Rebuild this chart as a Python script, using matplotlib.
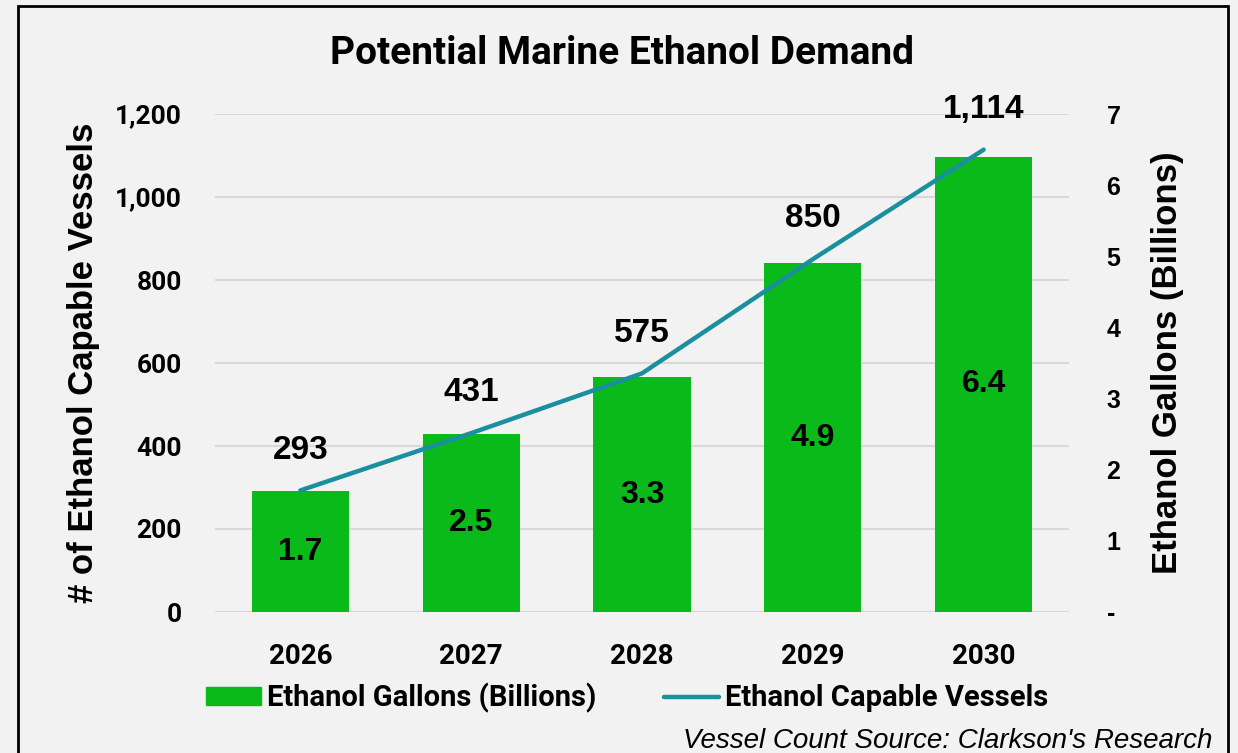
import matplotlib.pyplot as plt
from matplotlib.patches import Rectangle
from matplotlib.lines import Line2D

YEARS = ['2026', '2027', '2028', '2029', '2030']
GALLONS = [1.7, 2.5, 3.3, 4.9, 6.4]
VESSELS = [293, 431, 575, 850, 1114]
LEFT_TICKS = [0, 200, 400, 600, 800, 1000, 1200]
RIGHT_TICKS = [0, 1, 2, 3, 4, 5, 6, 7]

BG = '#F2F2F2'
GREEN = '#0ABA1A'
TEAL = '#1A8F9E'
NARROW = ['Roboto', 'DejaVu Sans']
ARIAL = ['Liberation Sans', 'DejaVu Sans']

fig = plt.figure(figsize=(12.38, 7.53), dpi=100, facecolor=BG)
ax = fig.add_axes([215 / 1238, 1 - 612 / 753, 854 / 1238, 498 / 753])
ax2 = ax.twinx()

x = list(range(len(YEARS)))

# bars go on the right axis (0-7), the line and the grid on the left one (0-1200)
for t in LEFT_TICKS:
    ax2.axhline(t * 7 / 1200, color='#D9D9D9', lw=1.5, zorder=0)
ax2.bar(x, GALLONS, width=0.57, color=GREEN, zorder=2)
for xi, g in zip(x, GALLONS):
    ax2.text(xi, g / 2, f'{g:.1f}', ha='center', va='center', fontsize=23,
             fontweight='bold', family=ARIAL, zorder=3)

ax2.set_zorder(0)
ax.set_zorder(1)
ax.patch.set_visible(False)
ax2.patch.set_facecolor(BG)
ax.plot(x, VESSELS, color=TEAL, lw=3.2, solid_capstyle='round', zorder=3)
for xi, v in zip(x, VESSELS):
    ax.annotate(f'{v:,}', (xi, v), xytext=(0, 29), textcoords='offset points',
                ha='center', va='center', fontsize=24, fontweight='bold', family=ARIAL)

ax.set_xlim(-0.5, 4.5)
ax.set_ylim(0, 1200)
ax2.set_ylim(0, 7)
ax.set_yticks(LEFT_TICKS)
ax.set_yticklabels([f'{t:,}' for t in LEFT_TICKS], family=NARROW, fontsize=19, fontweight='bold')
ax2.set_yticks(RIGHT_TICKS)
ax2.set_yticklabels(['-'] + [str(t) for t in RIGHT_TICKS[1:]], family=ARIAL, fontsize=18,
                    fontweight='bold')
ax.set_xticks(x)
ax.set_xticklabels(YEARS, family=NARROW, fontsize=20, fontweight='bold')

for a in (ax, ax2):
    for s in a.spines.values():
        s.set_visible(False)
    a.tick_params(length=0)
ax.tick_params(axis='y', pad=24)
ax.tick_params(axis='x', pad=22)
ax2.tick_params(axis='y', pad=27)

ax.set_ylabel('# of Ethanol Capable Vessels', family=ARIAL, fontsize=25, fontweight='bold',
              labelpad=11)
ax2.set_ylabel('Ethanol Gallons (Billions)', family=ARIAL, fontsize=25, fontweight='bold',
               labelpad=22)

fig.text(622 / 1238, 1 - 54 / 753, 'Potential Marine Ethanol Demand', ha='center', va='center',
         family=NARROW, fontsize=28, fontweight='bold')

handles = [Rectangle((0, 0), 1, 1, color=GREEN),
           Line2D([0], [0], color=TEAL, lw=3.2, solid_capstyle='round')]
fig.legend(handles, ['Ethanol Gallons (Billions)', 'Ethanol Capable Vessels'],
           loc='center', bbox_to_anchor=(627 / 1238, 1 - 698 / 753), ncol=2, frameon=False,
           prop={'family': NARROW, 'size': 21, 'weight': 'bold'}, handlelength=1.9,
           handleheight=0.6, handletextpad=0.2, columnspacing=2.3)

fig.text(1212 / 1238, 1 - 741 / 753, "Vessel Count Source: Clarkson's Research", ha='right',
         va='center', family=ARIAL, fontsize=20, style='italic')

fig.add_artist(Rectangle((18 / 1238, -0.05), 1210 / 1238, 1.05 - 6 / 753, fill=False,
                         edgecolor='black', lw=2, transform=fig.transFigure))

fig.savefig('out.png', dpi=100, facecolor=BG)
